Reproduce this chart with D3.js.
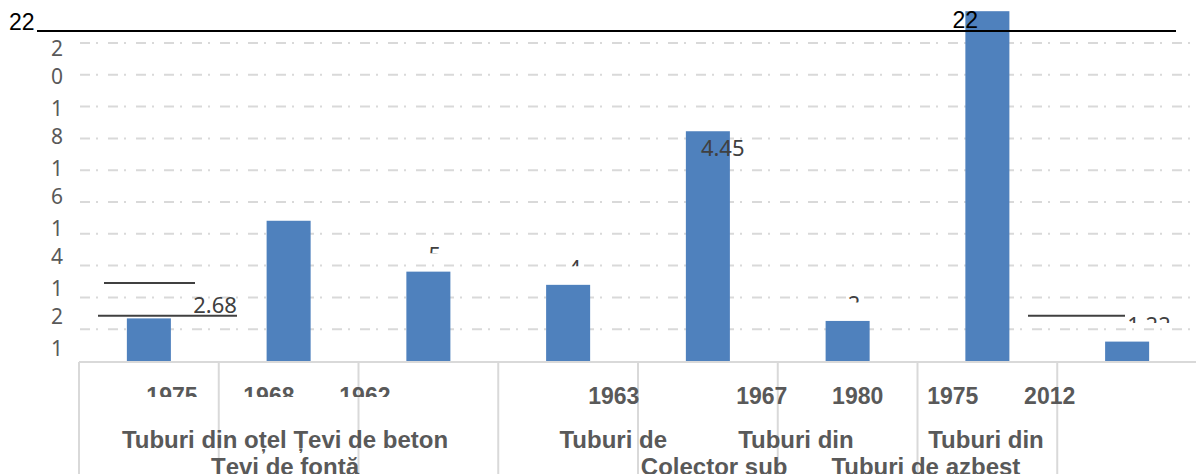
<!DOCTYPE html>
<html>
<head>
<meta charset="utf-8">
<script src="https://cdn.jsdelivr.net/npm/d3@7/dist/d3.min.js"></script>
<style>
  body { margin: 0; background: #fff; }
  svg { display: block; }
</style>
</head>
<body>
<svg id="chart"></svg>
<script>
// data
const years = ["1975", "1968", "1962", "1963", "1967", "1980", "1975", "2012"];
const values = [2.68, 8.82, 5.62, 4.79, 14.45, 2.52, 22, 1.22];
const valueLabels = ["2.68", "", "5", "4", "4.45", "2", "22", "1.22"];
const typeLabelsTop = ["Tuburi din oțel Țevi de beton", "Tuburi de", "Tuburi din", "Tuburi din"];
const typeLabelsBottom = ["Țevi de fontă", "Colector sub", "Tuburi de azbest"];
const yTickLabels = ["20", "18", "16", "14", "12", "10"];
const topLabel = "22";

// layout (in band units from the left of the category box)
const yearSlots = [0.665, 1.359, 2.046, 3.827, 4.886, 5.572, 6.252, 6.946];
const typeTopSlots = [1.474, 3.823, 5.13, 6.49];
const typeBottomSlots = [1.474, 4.545, 6.06];

const width = 1196;
const height = 474;
const grey = '#595959';
const sans = "'Liberation Sans', Arial, sans-serif";
const body = "'Noto Sans', 'Open Sans', sans-serif";

const svg = d3.select('#chart')
  .attr('width', width)
  .attr('height', height);
const defs = svg.append('defs');

// scales
const xBox = d3.scaleBand()
  .domain(d3.range(years.length))
  .range([79, 1197]);
const xScale = xBox.copy()
  .paddingInner(0.685)
  .paddingOuter(0.3425);
const yScale = d3.scaleLinear()
  .domain([0, 22])
  .range([361, 11.2]);
const slotX = u => xBox.range()[0] + u * xBox.step();

// gridlines
svg.append('g')
  .selectAll('line')
  .data(yScale.ticks(11).filter(t => t > 0 && t < 22))
  .join('line')
  .attr('x1', 80)
  .attr('x2', 1196)
  .attr('y1', d => yScale(d))
  .attr('y2', d => yScale(d))
  .attr('stroke', '#d9d9d9')
  .attr('stroke-width', 2)
  .attr('stroke-dasharray', '10,6,2,10');

// y tick labels, one digit per line
defs.append('clipPath').attr('id', 'yclip')
  .append('rect').attr('x', 0).attr('y', 0).attr('width', 79).attr('height', 362);
const yPos = d3.scalePoint().domain(yTickLabels).range([48, 348]);
const yLab = svg.append('g').attr('clip-path', 'url(#yclip)');
yTickLabels.forEach(lab => {
  lab.split('').forEach((ch, i) => {
    yLab.append('text')
      .attr('x', 57)
      .attr('y', yPos(lab) + i * 28)
      .attr('dy', '0.36em')
      .attr('text-anchor', 'middle')
      .style('font-family', body)
      .style('font-size', '21px')
      .style('fill', grey)
      .text(ch);
  });
});

// bars
svg.append('g')
  .selectAll('rect')
  .data(values)
  .join('rect')
  .attr('x', (d, i) => xScale(i))
  .attr('y', d => yScale(d))
  .attr('width', xScale.bandwidth())
  .attr('height', d => yScale(0) - yScale(d))
  .style('fill', '#4f81bd');

// top line and label
svg.append('line')
  .attr('x1', 37).attr('x2', 1176)
  .attr('y1', 31).attr('y2', 31)
  .attr('stroke', '#000').attr('stroke-width', 2);
svg.append('text')
  .attr('x', 9).attr('y', 29.5)
  .style('font-family', sans).style('font-size', '23px').style('fill', '#000')
  .text(topLabel);

// stray rules near labels
const rules = [
  {x1: 104, x2: 195, v: 4.9},
  {x1: 98, x2: 237, v: 2.84},
  {x1: 1028, x2: 1125, v: 2.84}
];
svg.append('g')
  .selectAll('line')
  .data(rules)
  .join('line')
  .attr('x1', d => d.x1).attr('x2', d => d.x2)
  .attr('y1', d => yScale(d.v)).attr('y2', d => yScale(d.v))
  .attr('stroke', '#404040').attr('stroke-width', 2);

// value labels
const labG = svg.append('g');
values.forEach((v, i) => {
  const txt = valueLabels[i];
  if (!txt) return;
  const cx = xScale(i) + xScale.bandwidth() / 2;
  const top = yScale(v);
  const t = labG.append('text')
    .style('font-family', body)
    .style('font-size', '22px')
    .style('fill', '#404040')
    .text(txt);
  if (i === 0) {
    t.attr('x', cx + 88).attr('y', top - 5.5).attr('text-anchor', 'end');
  } else if (i === 4) {
    t.attr('x', cx - 7).attr('y', top + 24.5);
  } else if (i === 6) {
    t.attr('x', cx - 35).attr('y', top + 17)
      .style('font-family', sans).style('font-size', '23px').style('fill', '#000');
  } else {
    defs.append('clipPath').attr('id', 'lc' + i)
      .append('rect').attr('x', cx - 5).attr('y', 0)
      .attr('width', 60).attr('height', top - 18.5);
    t.attr('x', cx).attr('y', top - 9).attr('clip-path', `url(#lc${i})`);
  }
});

// category box
const box = svg.append('g');
box.append('line')
  .attr('x1', 79).attr('x2', 1196)
  .attr('y1', 362).attr('y2', 362)
  .attr('stroke', '#d9d9d9').attr('stroke-width', 2);
box.selectAll('line.sep')
  .data(xBox.domain())
  .join('line')
  .attr('class', 'sep')
  .attr('x1', d => xBox(d)).attr('x2', d => xBox(d))
  .attr('y1', 362).attr('y2', height)
  .attr('stroke', '#d9d9d9').attr('stroke-width', 2);

// year labels (first group clipped at the bottom)
defs.append('clipPath').attr('id', 'yrclip')
  .append('rect').attr('x', 79).attr('y', 363).attr('width', 420).attr('height', 34);
const yrG = svg.append('g');
years.forEach((yr, i) => {
  yrG.append('text')
    .attr('x', slotX(yearSlots[i]))
    .attr('y', 403.5)
    .attr('text-anchor', 'middle')
    .attr('clip-path', i < 3 ? 'url(#yrclip)' : null)
    .style('font-family', sans)
    .style('font-size', '23px')
    .style('font-weight', 'bold')
    .style('fill', grey)
    .text(yr);
});

// type labels
const tyG = svg.append('g')
  .style('font-family', sans)
  .style('font-size', '24px')
  .style('font-weight', 'bold')
  .style('fill', grey)
  .attr('text-anchor', 'middle');
tyG.selectAll('text.top')
  .data(typeLabelsTop)
  .join('text')
  .attr('class', 'top')
  .attr('x', (d, i) => slotX(typeTopSlots[i]))
  .attr('y', 447.5)
  .text(d => d);
tyG.selectAll('text.bot')
  .data(typeLabelsBottom)
  .join('text')
  .attr('class', 'bot')
  .attr('x', (d, i) => slotX(typeBottomSlots[i]))
  .attr('y', 475)
  .text(d => d);
</script>
</body>
</html>
